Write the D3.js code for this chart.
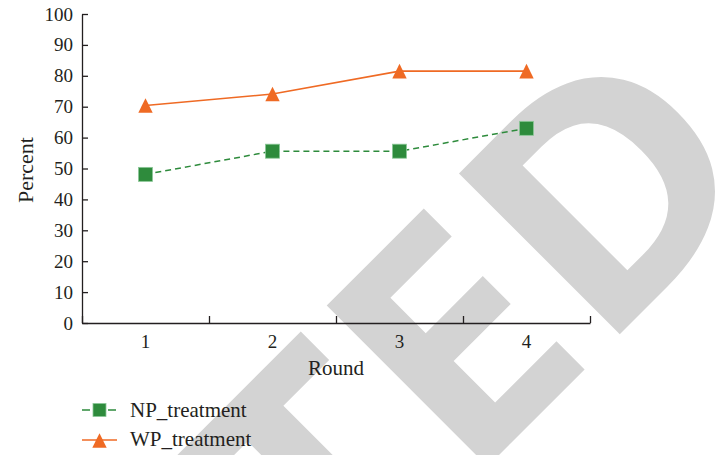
<!DOCTYPE html>
<html>
<head>
<meta charset="utf-8">
<script src="https://cdn.jsdelivr.net/npm/d3@7"></script>
<style>
  html, body { margin: 0; padding: 0; background: #fff; }
  svg { display: block; }
  text { font-family: "Liberation Serif", "Times New Roman", serif; fill: #231f20; }
</style>
</head>
<body>
<svg id="chart" width="722" height="455"></svg>
<script>
// ---- data ----
const rounds = ["1", "2", "3", "4"];
const npValues = [48.1, 55.6, 55.6, 63.0];
const wpValues = [70.4, 74.1, 81.5, 81.5];
const yTicks = [0, 10, 20, 30, 40, 50, 60, 70, 80, 90, 100];
const seriesNames = ["NP_treatment", "WP_treatment"];
const watermarkText = "RETRACTED";

const GREEN = "#2e8b3c", ORANGE = "#ef6a24", AXIS = "#231f20";

const svg = d3.select("#chart");

// ---- watermark (behind the chart) ----
(function drawWatermark() {
  const fam = "Open Sans";
  const base = 300;
  const ctx = document.createElement("canvas").getContext("2d");
  ctx.font = `bold ${base}px "${fam}"`;
  const mE = ctx.measureText("E");
  const mD = ctx.measureText("D");
  const capH = mE.actualBoundingBoxAscent;
  const fs = base * 229 / capH;
  const k = fs / base;
  const lsbE = -mE.actualBoundingBoxLeft * k;
  const lsbD = -mD.actualBoundingBoxLeft * k;
  const advE = mE.width * k;
  const sx = 187 / (advE - lsbE + lsbD);
  const g = svg.append("g")
    .attr("transform", `translate(617,337) rotate(-45) scale(${sx},1)`);
  const t = g.append("text")
    .attr("x", 0).attr("y", 0)
    .style("font-family", `"${fam}", sans-serif`)
    .style("font-weight", "bold")
    .style("font-size", fs + "px")
    .style("fill", "#d3d3d3")
    .text(watermarkText);
  const posD = t.node().getStartPositionOfChar(8).x;
  t.attr("x", -(posD + lsbD));
})();

// ---- scales ----
const x = d3.scaleBand().domain(rounds).range([82, 590]);
const xEdge = d3.scaleLinear().domain([0.5, 4.5]).range([82, 590]);
const y = d3.scaleLinear().domain([0, 100]).range([323, 14]);
const cx = d => x(d) + x.bandwidth() / 2;

// ---- axes ----
const yAxis = svg.append("g").attr("transform", "translate(82,0)")
  .call(d3.axisLeft(y).tickValues(yTicks).tickSize(-6).tickSizeOuter(0).tickPadding(9));
yAxis.selectAll("text").style("font-size", "19px").style("fill", AXIS)
  .style("font-family", '"Liberation Serif", serif');
yAxis.selectAll("line, path").attr("stroke", AXIS).attr("stroke-width", 1.3);

const xTicks = svg.append("g").attr("transform", "translate(0,323)")
  .call(d3.axisBottom(xEdge).tickValues([0.5, 1.5, 2.5, 3.5, 4.5]).tickSize(-7).tickSizeOuter(0).tickFormat(""));
xTicks.selectAll("line, path").attr("stroke", AXIS).attr("stroke-width", 1.3);

const xLabels = svg.append("g").attr("transform", "translate(0,323)")
  .call(d3.axisBottom(x).tickSize(0).tickPadding(12));
xLabels.select(".domain").remove();
xLabels.selectAll("text").style("font-size", "19px").style("fill", AXIS)
  .style("font-family", '"Liberation Serif", serif');

svg.append("text").attr("x", 336).attr("y", 375).attr("text-anchor", "middle")
  .style("font-size", "21px").text("Round");
svg.append("text").attr("transform", "translate(33,170) rotate(-90)").attr("text-anchor", "middle")
  .style("font-size", "22px").text("Percent");

// ---- lines ----
const line = d3.line().x((d, i) => cx(rounds[i])).y(d => y(d));
svg.append("path").datum(wpValues).attr("d", line)
  .attr("fill", "none").attr("stroke", ORANGE).attr("stroke-width", 1.6);
svg.append("path").datum(npValues).attr("d", line)
  .attr("fill", "none").attr("stroke", GREEN).attr("stroke-width", 1.5)
  .attr("stroke-dasharray", "6,4");

// ---- markers ----
const sq = 14;
function tri(px, py) {
  return `M${px - 7.2},${py + 7.3}L${px + 7.2},${py + 7.3}L${px},${py - 7.3}Z`;
}
svg.selectAll("rect.np").data(npValues).enter().append("rect")
  .attr("class", "np")
  .attr("x", (d, i) => cx(rounds[i]) - sq / 2).attr("y", d => y(d) - sq / 2)
  .attr("width", sq).attr("height", sq)
  .attr("fill", GREEN).attr("stroke", "#8cc898").attr("stroke-width", 0.8);
svg.selectAll("path.wp").data(wpValues).enter().append("path")
  .attr("class", "wp")
  .attr("d", (d, i) => tri(cx(rounds[i]), y(d)))
  .attr("fill", ORANGE);

// ---- legend ----
const lg = svg.append("g");
// NP row
lg.append("line").attr("x1", 82).attr("x2", 117).attr("y1", 410).attr("y2", 410)
  .attr("stroke", GREEN).attr("stroke-width", 1.5).attr("stroke-dasharray", "8,18");
lg.append("rect").attr("x", 99.5 - 6.5).attr("y", 410 - 6.5).attr("width", 13).attr("height", 13)
  .attr("fill", GREEN).attr("stroke", "#8cc898").attr("stroke-width", 0.8);
lg.append("text").attr("x", 130).attr("y", 416.5).style("font-size", "21px").text(seriesNames[0]);
// WP row
lg.append("line").attr("x1", 82).attr("x2", 117).attr("y1", 440).attr("y2", 440)
  .attr("stroke", ORANGE).attr("stroke-width", 1.6);
lg.append("path").attr("d", tri(99.5, 440.5)).attr("fill", ORANGE);
lg.append("text").attr("x", 130).attr("y", 446).style("font-size", "21px").text(seriesNames[1]);
</script>
</body>
</html>
